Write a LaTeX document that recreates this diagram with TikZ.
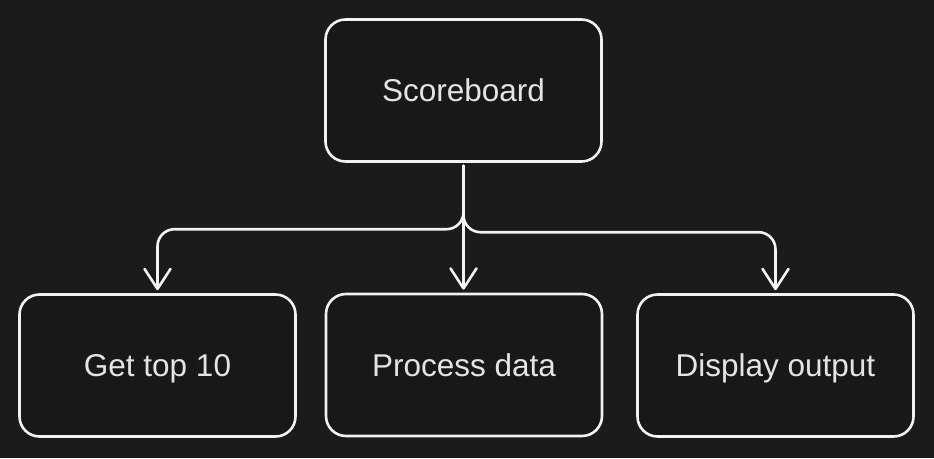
\documentclass[tikz,border=0pt]{standalone}
\usepackage{fontspec}
\newfontfamily\labfont{Liberation Sans}
\usetikzlibrary{arrows.meta,calc}
\definecolor{bgcol}{HTML}{1B1B1B}
\definecolor{boxfill}{HTML}{181818}
\definecolor{linecol}{HTML}{F2F2F2}
\definecolor{textcol}{HTML}{E4E4E4}
\tikzset{
  box/.style={draw=linecol, fill=boxfill, line width=2.6pt, rounded corners=20pt,
    minimum width=276pt, minimum height=142pt, inner sep=0pt,
    text height=22pt, text depth=0pt,
    font=\labfont\fontsize{31.5}{36}\selectfont, text=textcol},
  conn/.style={draw=linecol, line width=2.6pt, line cap=round, line join=round,
    rounded corners=17pt, shorten <=3pt, shorten >=3pt,
    -{Straight Barb[length=20pt,width=26pt,line width=2.6pt,round]}}
}
\begin{document}
\begin{tikzpicture}[x=1pt,y=-1pt]
\fill[bgcol] (0,0) rectangle (934,458);
\useasboundingbox (0,0) rectangle (934,458);
\node[box] (sb) at (463.5,90.5) {Scoreboard};
\node[box] (gt) at (157.5,365.5) {Get top 10};
\node[box] (pd) at (464,365) {Process data};
\node[box] (do) at (775.5,365.5) {Display output};
\draw[conn] (sb.south) |- ($(gt.north)+(0,-64)$) -- (gt.north);
\draw[conn] (sb.south) -- (sb.south |- pd.north);
\draw[conn] (sb.south) |- ($(do.north)+(0,-61)$) -- (do.north);
\end{tikzpicture}
\end{document}
